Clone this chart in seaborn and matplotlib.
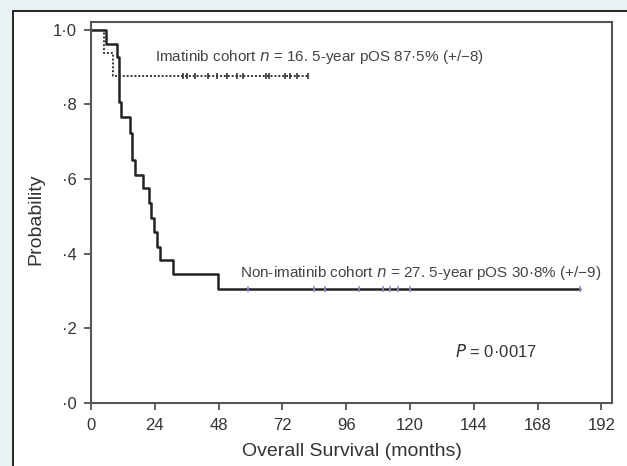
import numpy as np
import pandas as pd
import seaborn as sns
import matplotlib.pyplot as plt
from matplotlib.patches import Rectangle

# Kaplan-Meier steps
non_t = [0, 5.6, 9.8, 10.4, 11.3, 14.5, 15.6, 16.5, 19.5, 21.8, 22.7, 23.6, 24.8, 26.0, 30.8, 47.7, 184]
non_s = [1.0, 0.963, 0.926, 0.807, 0.767, 0.724, 0.651, 0.611, 0.576, 0.536, 0.497, 0.458, 0.418, 0.383, 0.346, 0.306, 0.306]
non_cens = [59, 84, 88, 101, 110, 112.5, 115.5, 120, 184]

ima_t = [0, 4.9, 8.3, 81.6]
ima_s = [1.0, 0.938, 0.875, 0.875]
ima_cens = [34.6, 36, 39, 44, 47.4, 51, 55, 57, 66, 67, 73, 75, 77.4, 81.6]

xticks = [0, 24, 48, 72, 96, 120, 144, 168, 192]
yticks = [0, 0.2, 0.4, 0.6, 0.8, 1.0]
ylabels = ["·0", "·2", "·4", "·6", "·8", "1·0"]

sns.set_style("ticks")
plt.rcParams['font.family'] = ['Liberation Sans', 'DejaVu Sans']

fig = plt.figure(figsize=(6.27, 4.66), dpi=100)
fig.patch.set_facecolor("#e9f1f3")
fig.patches.append(Rectangle((13 / 627, -0.01), 1, 1.01 - 11 / 466, transform=fig.transFigure,
                             facecolor="white", edgecolor="black", linewidth=1.2, zorder=-5))

ax = fig.add_axes([91 / 627, 63 / 466, 521 / 627, 381 / 466])
ax.set_facecolor("white")

df_non = pd.DataFrame({"t": non_t, "s": non_s})
df_ima = pd.DataFrame({"t": ima_t, "s": ima_s})

sns.lineplot(data=df_non, x="t", y="s", drawstyle="steps-post", color="#222222",
             linewidth=1.8, ax=ax, estimator=None)
sns.lineplot(data=df_ima, x="t", y="s", drawstyle="steps-post", color="#333333",
             linewidth=1.4, linestyle=(0, (1, 1)), ax=ax, estimator=None)

# censor marks
ax.plot(non_cens, [0.306] * len(non_cens), linestyle="none", marker="|",
        markersize=5, color="#8a8ad0", markeredgewidth=1.2)
ax.plot(ima_cens, [0.875] * len(ima_cens), linestyle="none", marker="|",
        markersize=5, color="#333333", markeredgewidth=1.2)

ax.text(24, 0.928, "Imatinib cohort $n$ = 16. 5-year pOS 87·5% (+/−8)",
        fontsize=11, color="#444444", va="center", ha="left")
ax.text(56, 0.349, "Non-imatinib cohort $n$ = 27. 5-year pOS 30·8% (+/−9)",
        fontsize=11, color="#444444", va="center", ha="left")
ax.text(137, 0.137, "$P$ = 0·0017", fontsize=12, color="#333333", va="center", ha="left")

ax.set_xlim(0, 196)
ax.set_ylim(0, 1.021)
ax.set_xticks(xticks)
ax.set_yticks(yticks)
ax.set_yticklabels(ylabels)
ax.tick_params(direction="out", length=5, width=1.2, color="#444444",
               labelcolor="#333333")
ax.tick_params(axis="x", labelsize=12, pad=6)
ax.tick_params(axis="y", labelsize=12, pad=5)

for sp in ax.spines.values():
    sp.set_visible(True)
    sp.set_color("#555555")
    sp.set_linewidth(1.5)

ax.set_xlabel("Overall Survival (months)", fontsize=14, color="#333333")
ax.set_ylabel("Probability", fontsize=14, color="#333333")
ax.xaxis.label.set_va("center")
ax.yaxis.label.set_va("center")
ax.xaxis.set_label_coords(0.5, -0.1286)
ax.yaxis.set_label_coords(-0.1056, 0.483)

fig.savefig("out.png", dpi=100, facecolor=fig.get_facecolor())
